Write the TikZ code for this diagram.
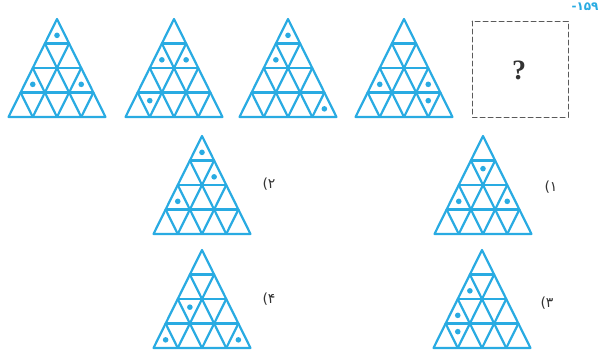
\documentclass[tikz,border=0pt]{standalone}
\usepackage{fontspec}
\newfontfamily\farsifont{DejaVu Sans}
\newfontfamily\askfont{Liberation Serif}
\definecolor{gridblue}{HTML}{29ABE2}
\definecolor{boxgray}{HTML}{5A5A5A}

\begin{document}
\begin{tikzpicture}[
    x=1pt,
    y=-1pt,
    line cap=round,
    line join=round,
    grid/.style={draw=gridblue, line width=2.2pt},
    dot/.style={fill=gridblue},
    qbox/.style={
        draw=boxgray,
        line width=1pt,
        dash pattern=on 5pt off 3pt
    },
    optlabel/.style={
        font=\farsifont\fontsize{14}{14}\selectfont,
        text=black!80,
        inner sep=0pt
    }
]

% =========================================================
% Параметры рисунка
% =========================================================

\def\W{97}     % ширина основания треугольника
\def\H{98}     % высота треугольника
\def\rd{2.8pt} % радиус точки

\useasboundingbox (0,0) rectangle (605,349);

% =========================================================
% Треугольник с сеткой: вершина (#1,#2), точки #3 = ряд/номер
% =========================================================

\def\trigrid#1#2#3{%
    \draw[grid] (#1,#2) -- ({#1-\W/2},{#2+\H}) -- ({#1+\W/2},{#2+\H}) -- cycle;
    \foreach \i in {1,2,3} {
        \draw[grid] ({#1-\i*\W/8},{#2+\i*\H/4}) -- ({#1+\i*\W/8},{#2+\i*\H/4});
        \draw[grid] ({#1-\i*\W/8},{#2+\i*\H/4}) -- ({#1+(4-2*\i)*\W/8},{#2+\H});
        \draw[grid] ({#1+\i*\W/8},{#2+\i*\H/4}) -- ({#1-(4-2*\i)*\W/8},{#2+\H});
    }
    \foreach \rw/\kk in {#3} {
        \pgfmathsetmacro{\dy}{ifthenelse(mod(\kk,2)==0,2/3,1/3)}
        \fill[dot] ({#1+(\kk-\rw)*\W/8},{#2+(\rw+\dy)*\H/4}) circle[radius=\rd];
    }
}

% Подпись варианта: скобка слева, цифра справа
\def\optmark#1{\hbox{(}\hbox{#1}}

% =========================================================
% Верхний ряд
% =========================================================

\trigrid{57}{19}{0/0, 2/0, 2/4}
\trigrid{174}{19}{1/0, 1/2, 3/1}
\trigrid{288}{19}{0/0, 1/0, 3/6}
\trigrid{404}{19}{2/0, 2/4, 3/5}

\draw[qbox] (472,21) rectangle (568,117);
\node[font=\askfont\bfseries\fontsize{28}{28}\selectfont, text=black!80]
    (ask) at (519,70) {?};

\node[font=\farsifont\bfseries\fontsize{12}{12}\selectfont, text=gridblue,
      inner sep=0pt]
    (num) at (585,7) {-۱۵۹};

% =========================================================
% Варианты ответа
% =========================================================

\trigrid{483}{136}{1/1, 2/0, 2/4}
\trigrid{202}{136}{0/0, 1/2, 2/0}
\trigrid{482}{250}{1/0, 2/0, 3/1}
\trigrid{202}{250}{2/1, 3/0, 3/6}

\node[optlabel] (opt1) at (551,187) {\optmark{۱}};
\node[optlabel] (opt2) at (269,184) {\optmark{۲}};
\node[optlabel] (opt3) at (547,303) {\optmark{۳}};
\node[optlabel] (opt4) at (269,299) {\optmark{۴}};

\end{tikzpicture}
\end{document}
